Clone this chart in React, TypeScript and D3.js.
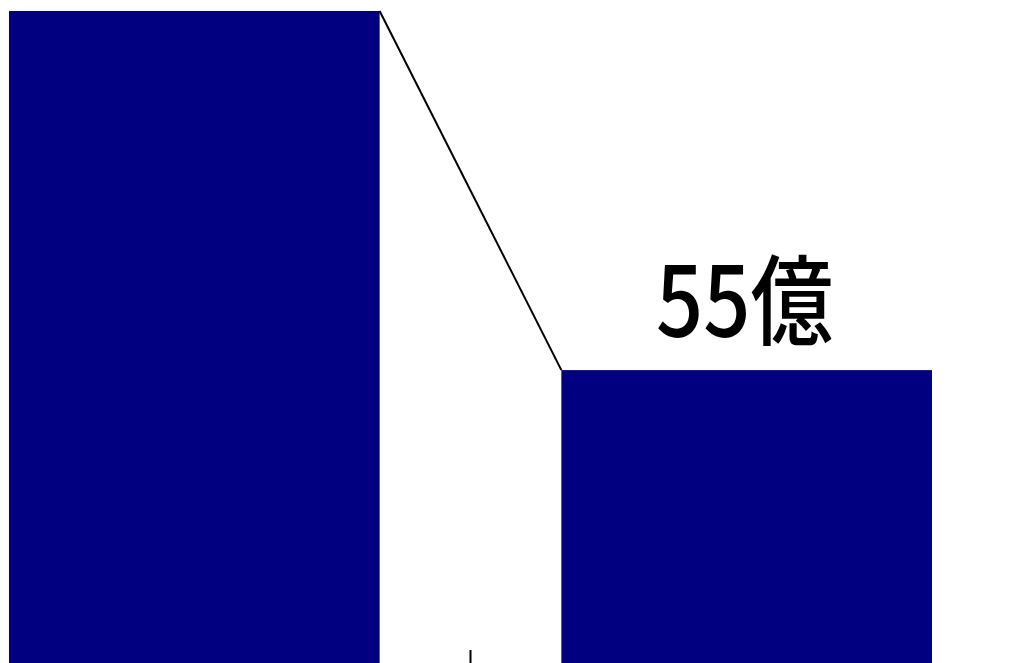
import React from "react";
import * as d3 from "d3";

const categories = ["前", "後"];
const values = [100, 55];
const labels = ["", "55億"];

const W = 1018;
const H = 663;

export default function App() {
  const x = d3.scaleBand<string>().domain(categories).range([9, 932]).paddingInner(0.329).paddingOuter(0);
  const y = d3.scaleLinear().domain([0, 100]).range([809, 11]);
  const bw = x.bandwidth();
  const x0 = x(categories[0])!;
  const x1 = x(categories[1])!;
  const boundary = (x0 + bw + x1) / 2;
  return (
    <svg width={W} height={H} style={{ position: "absolute", left: 0, top: 0, display: "block", background: "#fff" }}>
      {categories.map((c, i) => (
        <rect key={c} x={x(c)} y={y(values[i])} width={bw} height={y(0) - y(values[i])} fill="#000080" />
      ))}
      <line x1={x0 + bw} y1={y(values[0])} x2={x1} y2={y(values[1])} stroke="#000" strokeWidth={2} />
      <line x1={boundary} x2={boundary} y1={650} y2={H} stroke="#000" strokeWidth={2} />
      {categories.map((c, i) =>
        labels[i] ? (
          <text
            key={"l" + c}
            transform={`translate(${x(c)! + bw / 2 - 2},${y(values[i]) - 33}) scale(0.9,1.06)`}
            textAnchor="middle"
            fontFamily="'Noto Sans CJK JP', sans-serif"
            fontWeight={500}
            fontSize={92}
            fill="#000"
          >
            {labels[i]}
          </text>
        ) : null
      )}
    </svg>
  );
}
